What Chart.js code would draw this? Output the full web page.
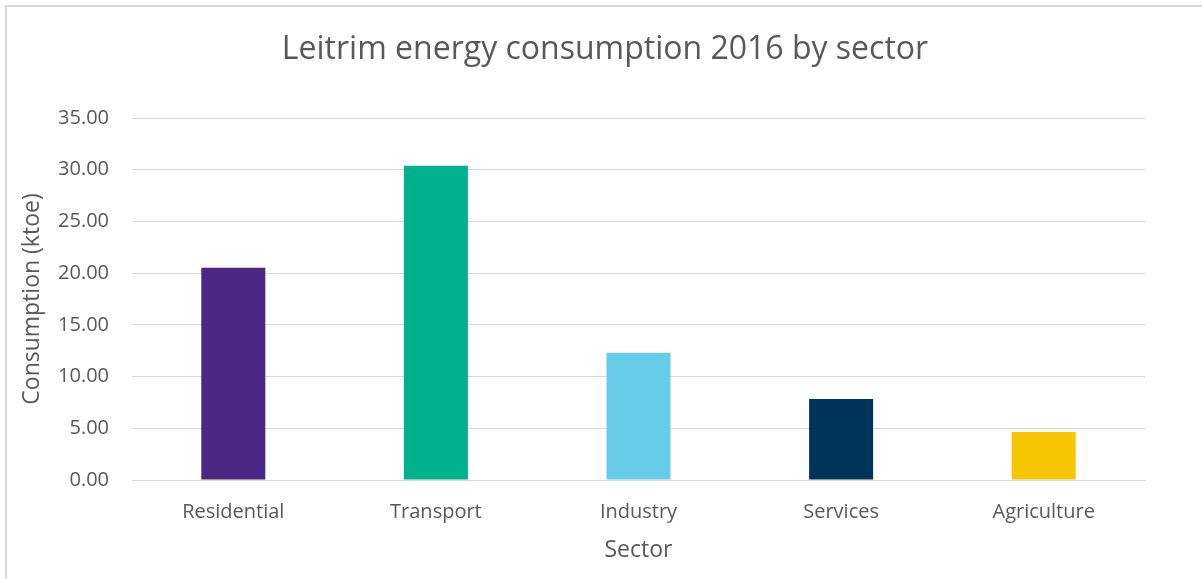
<!DOCTYPE html>
<html>
<head>
<meta charset="utf-8">
<script src="https://cdn.jsdelivr.net/npm/chart.js@4/dist/chart.umd.min.js"></script>
<style>
  body { margin: 0; background: #fff; }
  #frame {
    position: absolute; left: 5px; top: 5px; width: 1197px; height: 574px;
    border-left: 2px solid #d9d9d9; border-top: 2px solid #d9d9d9;
    box-sizing: border-box;
  }
  #chart { position: absolute; left: 0; top: 0; }
</style>
</head>
<body>
<div id="frame"></div>
<canvas id="chart" width="1202" height="579"></canvas>
<script>
const sectors = ['Residential', 'Transport', 'Industry', 'Services', 'Agriculture'];
const consumption = [20.52, 30.38, 12.31, 7.84, 4.65];
const barColours = ['#4b2884', '#00b18f', '#66cce8', '#003359', '#f8c600'];

const textColour = '#595959';
const font = 'Open Sans';

new Chart(document.getElementById('chart'), {
  type: 'bar',
  data: {
    labels: sectors,
    datasets: [{
      label: 'Consumption (ktoe)',
      data: consumption,
      backgroundColor: barColours,
      borderWidth: 0,
      barPercentage: 0.316,
      categoryPercentage: 1
    }]
  },
  options: {
    responsive: false,
    animation: false,
    layout: { padding: { left: 8, right: 0, top: 0, bottom: 0 } },
    plugins: {
      legend: { display: false },
      tooltip: { enabled: false },
      title: {
        display: true,
        text: 'Leitrim energy consumption 2016 by sector',
        color: textColour,
        font: { family: font, size: 32, weight: 'normal' },
        padding: { top: 30.8, bottom: 48.8 }
      }
    },
    scales: {
      x: {
        grid: { display: false },
        border: { color: '#d9d9d9' },
        ticks: { color: textColour, font: { family: font, size: 20 }, padding: 12 },
        title: {
          display: true,
          text: 'Sector',
          color: textColour,
          font: { family: font, size: 23 },
          padding: { top: 0, bottom: 15 }
        },
        afterFit: s => { s.height = 99; }
      },
      y: {
        min: 0,
        max: 35,
        ticks: {
          stepSize: 5,
          color: textColour,
          font: { family: font, size: 20 },
          padding: 23,
          callback: v => v.toFixed(2)
        },
        grid: { color: '#d9d9d9', drawTicks: false },
        border: { display: false },
        title: {
          display: true,
          text: 'Consumption (ktoe)',
          color: textColour,
          font: { family: font, size: 23 },
          padding: { top: 11, bottom: 0 }
        },
        afterFit: s => { s.width = 124; }
      },
      yRight: {
        position: 'right',
        display: true,
        ticks: { display: false },
        grid: { display: false },
        border: { display: false },
        afterFit: s => { s.width = 57; }
      }
    }
  }
});
</script>
</body>
</html>
